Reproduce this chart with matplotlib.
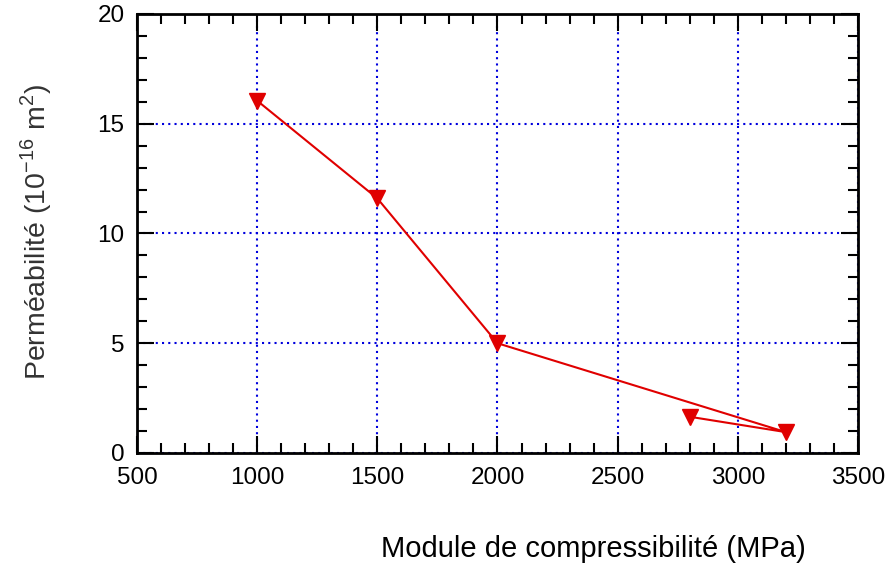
import numpy as np
import matplotlib.pyplot as plt
from matplotlib.ticker import MultipleLocator

# Data
module = [1000, 1500, 2000, 3200, 2800]
permeabilite = [16.05, 11.6, 5.0, 0.95, 1.65]

plt.rcParams['font.family'] = ['Liberation Sans', 'DejaVu Sans']

fig = plt.figure(figsize=(8.86, 5.69), dpi=100)
ax = fig.add_axes([0.1546, 0.2039, 0.9684 - 0.1546, 0.9754 - 0.2039])

ax.plot(module, permeabilite, color='#e00000', linewidth=1.5,
        marker='v', markersize=11, markerfacecolor='#e00000',
        markeredgecolor='#e00000', zorder=3)

ax.set_xlim(500, 3500)
ax.set_ylim(0, 20)
ax.xaxis.set_major_locator(MultipleLocator(500))
ax.xaxis.set_minor_locator(MultipleLocator(100))
ax.yaxis.set_major_locator(MultipleLocator(5))
ax.yaxis.set_minor_locator(MultipleLocator(1))

ax.tick_params(which='both', direction='in', top=True, right=True,
               color='black', width=1.5)
ax.tick_params(which='major', length=12, labelsize=17.5)
ax.tick_params(axis='x', which='major', pad=10)
ax.tick_params(axis='y', which='major', pad=9)
ax.tick_params(which='minor', length=7)

for sp in ax.spines.values():
    sp.set_linewidth(2)

ax.grid(True, which='major', color='#0000dd', linestyle=(0, (1, 2)), linewidth=1.5)

fig.text(593 / 886, 1 - 549 / 569, 'Module de compressibilité (MPa)',
         ha='center', va='center', fontsize=21)
fig.text(36 / 886, 1 - 232 / 569,
         r'Perméabilité (10$^{\mathregular{-16}}$ m$^{\mathregular{2}}$)',
         ha='center', va='center', rotation=90, fontsize=20.5, color='#333333')

fig.savefig('out.png', dpi=100)
plt.close()
